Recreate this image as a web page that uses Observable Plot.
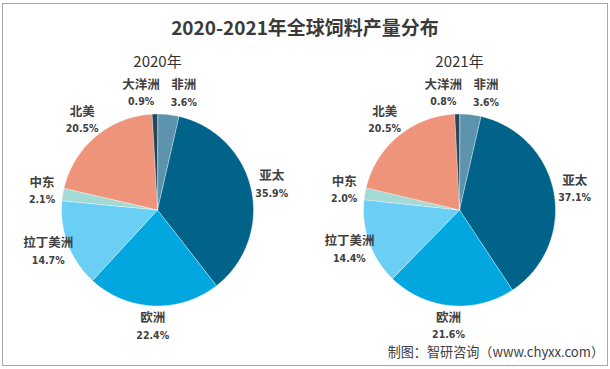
<!DOCTYPE html>
<html>
<head>
<meta charset="utf-8">
<script src="https://cdn.jsdelivr.net/npm/d3@7"></script>
<script src="https://cdn.jsdelivr.net/npm/@observablehq/plot@0.6"></script>
<style>
  html, body { margin: 0; padding: 0; background: #fff; }
  #wrap { position: relative; width: 610px; height: 369px; overflow: hidden; background: #fff; }
  #border { position: absolute; left: 2px; top: 3px; width: 606px; height: 363px; box-sizing: border-box; border: 1px solid #a6a6a6; pointer-events: none; }
  #title { position: absolute; left: 0; width: 610px; top: 14px; text-align: center; font-family: "Noto Sans CJK SC", sans-serif; font-weight: bold; font-size: 19px; color: #3a3a3a; line-height: 26px; }
  #caption { position: absolute; right: 6px; top: 342px; font-family: "Noto Sans CJK SC", sans-serif; font-size: 13.1px; color: #404040; line-height: 20px; }
  #chart { position: absolute; left: 0; top: 0; }
</style>
</head>
<body>
<div id="wrap">
  <div id="chart"></div>
  <div id="title">2020-2021年全球饲料产量分布</div>
  <div id="caption">制图：智研咨询（www.chyxx.com）</div>
  <div id="border"></div>
</div>
<script>
const categories = ["非洲", "亚太", "欧洲", "拉丁美洲", "中东", "北美", "大洋洲"];
const years = ["2020", "2021"];
const values2020 = [3.6, 35.9, 22.4, 14.7, 2.1, 20.5, 0.9];
const values2021 = [3.6, 37.1, 21.6, 14.4, 2.0, 20.5, 0.8];
const pctLabels2020 = ["3.6%", "35.9%", "22.4%", "14.7%", "2.1%", "20.5%", "0.9%"];
const pctLabels2021 = ["3.6%", "37.1%", "21.6%", "14.4%", "2.0%", "20.5%", "0.8%"];
const colors = ["#5d93ac", "#02638a", "#01a7de", "#6bcff5", "#a3dad5", "#ee947b", "#26465c"];

const R = 96;          // pie radius (px units)
const LR = 117;        // label radius
const seriesByYear = {"2020": values2020, "2021": values2021};
const pctByYear = {"2020": pctLabels2020, "2021": pctLabels2021};

const slices = [];
const labels = [];
for (const year of years) {
  const rows = categories.map((cat, i) => ({cat, value: seriesByYear[year][i], pct: pctByYear[year][i]}));
  const arcs = d3.pie().sort(null).value(d => d.value)(rows);
  const yearLabels = [];
  for (const a of arcs) {
    const key = year + "-" + a.data.cat;
    slices.push({year, cat: a.data.cat, key, x: 0, y: 0});
    const n = Math.max(2, Math.ceil((a.endAngle - a.startAngle) / (Math.PI / 180)));
    for (let k = 0; k <= n; k++) {
      const t = a.startAngle + (a.endAngle - a.startAngle) * k / n;
      slices.push({year, cat: a.data.cat, key, x: R * Math.sin(t), y: R * Math.cos(t)});
    }
    const mid = (a.startAngle + a.endAngle) / 2;
    const hw = Math.max(a.data.cat.length * 13, a.data.pct.length * 6.6) / 2;
    yearLabels.push({year, name: a.data.cat, pct: a.data.pct, x: LR * Math.sin(mid), y: LR * Math.cos(mid), hw});
  }
  // simple horizontal collision avoidance
  for (let it = 0; it < 4; it++) {
    for (let i = 0; i < yearLabels.length; i++) {
      for (let j = i + 1; j < yearLabels.length; j++) {
        const A = yearLabels[i], B = yearLabels[j];
        if (Math.abs(A.y - B.y) < 30) {
          const need = A.hw + B.hw + 10;
          const d = B.x - A.x;
          if (Math.abs(d) < need) {
            const s = d >= 0 ? 1 : -1;
            const push = (need - Math.abs(d)) / 2;
            A.x -= s * push; B.x += s * push;
          }
        }
      }
    }
  }
  labels.push(...yearLabels);
}

const chart = Plot.plot({
  width: 610,
  height: 369,
  marginLeft: 6,
  marginRight: 0,
  marginTop: 75,
  marginBottom: 25,
  fx: {domain: years, padding: 0, axis: null},
  x: {domain: [-151, 151], axis: null},
  y: {domain: [-134.5, 134.5], axis: null},
  color: {domain: categories, range: colors},
  style: {background: "transparent", overflow: "visible"},
  marks: [
    Plot.line(slices, {fx: "year", x: "x", y: "y", z: "key", fill: "cat", curve: "linear-closed",
      stroke: "#ffffff", strokeOpacity: 0.55, strokeWidth: 0.7}),
    Plot.text(years, {fx: d => d, text: d => d + "年", frameAnchor: "top", lineAnchor: "middle", dy: -13,
      fontSize: 15, fill: "#333333", fontFamily: "Noto Sans CJK SC"}),
    Plot.text(labels, {fx: "year", x: "x", y: "y", text: "name", dy: -8.5, fontSize: 12.5, fontWeight: "bold",
      fill: "#404040", fontFamily: "Noto Sans CJK SC"}),
    Plot.text(labels, {fx: "year", x: "x", y: "y", text: "pct", dy: 8.5, fontSize: 10.5, fontWeight: "bold",
      fill: "#404040", fontFamily: "'DejaVu Sans Condensed', 'DejaVu Sans', sans-serif"})
  ]
});
document.getElementById("chart").appendChild(chart);
</script>
</body>
</html>
